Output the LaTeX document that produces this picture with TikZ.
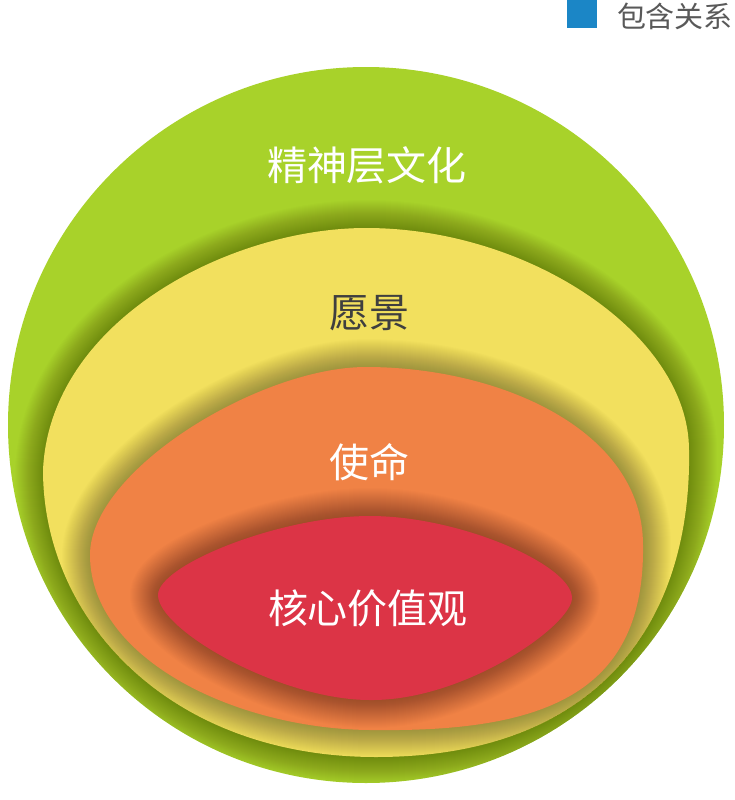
\documentclass[tikz,border=0pt]{standalone}
\usepackage{fontspec}
\newfontfamily\cjk{Noto Sans CJK SC}
\definecolor{ringgreen}{HTML}{A8D22A}
\definecolor{ringyellow}{HTML}{F2E05E}
\definecolor{ringorange}{HTML}{F08245}
\definecolor{ringred}{HTML}{DC3446}
\definecolor{legblue}{HTML}{1B86C6}
\definecolor{txtdark}{HTML}{3F3F3F}
\definecolor{txtgray}{HTML}{595959}
\begin{document}
\begin{tikzpicture}[
    x=0.5pt, y=-0.5pt,
    glow/.style={draw=black, opacity=0.011, line width=#1, line join=round},
    lbl/.style={font=\cjk\fontsize{20pt}{24pt}\selectfont, inner sep=0pt}
  ]
  \useasboundingbox (0,0) rectangle (735,800);
  \fill[white] (0,0) rectangle (735,800);

  % outer ring
  \path[save path=\greenpath] (366,425) circle[radius=179pt];
  \fill[ringgreen, use path=\greenpath];

  % yellow
  \path[save path=\yellowpath] (366,228)
    .. controls (530,228) and (689,335) .. (689,450)
    .. controls (692,620) and (600,757) .. (376,757)
    .. controls (170,757) and (43,620) .. (43,470)
    .. controls (50,320) and (230,228) .. cycle;
  \begin{scope}
    \clip[use path=\greenpath];
    \foreach \w in {1,...,28} {
      \draw[glow=\w pt, use path=\yellowpath];
    }
  \end{scope}
  \fill[ringyellow, use path=\yellowpath];

  % orange
  \path[save path=\orangepath] (366,367)
    .. controls (500,367) and (643,430) .. (643,545)
    .. controls (645,690) and (550,732) .. (376,730)
    .. controls (240,731) and (90,660) .. (90,555)
    .. controls (90,470) and (260,367) .. cycle;
  \begin{scope}
    \clip[use path=\yellowpath];
    \foreach \w in {1,...,28} {
      \draw[glow=\w pt, use path=\orangepath];
    }
  \end{scope}
  \fill[ringorange, use path=\orangepath];

  % red
  \path[save path=\redpath] (370,516)
    .. controls (460,516) and (572,565) .. (572,598)
    .. controls (572,625) and (465,701) .. (370,700)
    .. controls (280,700) and (158,630) .. (158,595)
    .. controls (158,565) and (280,516) .. cycle;
  \begin{scope}
    \clip[use path=\orangepath];
    \foreach \w in {1,...,28} {
      \draw[glow=\w pt, use path=\redpath];
    }
  \end{scope}
  \fill[ringred, use path=\redpath];

  \node[lbl, text=white] (jingshen) at (367,165) {精神层文化};
  \node[lbl, text=txtdark] (yuanjing) at (369,313) {愿景};
  \node[lbl, text=white] (shiming) at (369,462) {使命};
  \node[lbl, text=white] (hexin) at (368,608) {核心价值观};

  % legend
  \node[fill=legblue, minimum width=15pt, minimum height=14pt, inner sep=0pt,
        anchor=north west] (legbox) at (567,0) {};
  \node[font=\cjk\fontsize{14.5pt}{17pt}\selectfont, text=txtgray, inner sep=0pt]
        (legtext) at (675,16) {包含关系};
\end{tikzpicture}
\end{document}
